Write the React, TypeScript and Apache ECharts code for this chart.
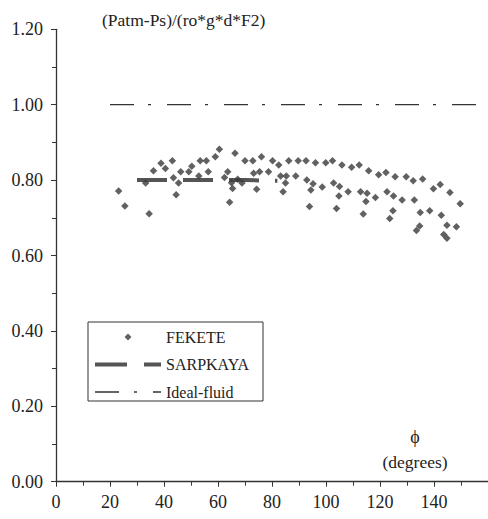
import React, { useEffect, useRef } from "react";
import * as echarts from "echarts";

// FEKETE measurements: angle (degrees) and pressure ratio
const feketeAngle = [
  23.2, 25.5, 34.5, 33.2, 36.1, 38.9, 40.5, 43.1, 43.5, 45.4, 44.5, 46.2, 49.2, 50.3, 53.4, 55.7,
  52.9, 56.4, 59.0, 60.5, 62.4, 63.6, 65.0, 65.4, 64.3, 66.3, 67.3, 68.9, 70.0, 72.9, 73.2, 75.4,
  74.3, 76.1, 78.7, 80.2, 82.5, 83.2, 86.2, 85.3, 85.0, 84.1, 89.7, 92.6, 88.8, 92.9, 95.2, 94.4,
  93.9, 96.1, 98.6, 99.9, 102.4, 102.8, 105.0, 104.8, 103.9, 105.9, 109.5, 112.3, 108.2, 112.8,
  115.2, 114.8, 113.8, 115.8, 118.3, 119.5, 122.2, 125.6, 129.7, 132.3, 135.8, 122.6, 125.0, 128.2,
  132.7, 124.8, 123.6, 139.8, 142.3, 145.9, 149.7, 134.9, 138.4, 142.7, 134.7, 133.5, 144.8, 148.3,
  143.6, 144.8,
];
const feketeRatio = [
  0.771, 0.731, 0.711, 0.792, 0.825, 0.845, 0.831, 0.851, 0.806, 0.792, 0.761, 0.822, 0.822, 0.837, 0.851, 0.851,
  0.811, 0.822, 0.862, 0.882, 0.807, 0.822, 0.793, 0.778, 0.741, 0.871, 0.802, 0.792, 0.851, 0.851, 0.818, 0.822,
  0.776, 0.862, 0.822, 0.851, 0.84, 0.811, 0.851, 0.811, 0.792, 0.769, 0.851, 0.851, 0.811, 0.8, 0.79, 0.774,
  0.73, 0.846, 0.782, 0.846, 0.851, 0.792, 0.783, 0.758, 0.725, 0.84, 0.834, 0.84, 0.769, 0.769,
  0.765, 0.743, 0.71, 0.825, 0.754, 0.814, 0.82, 0.809, 0.809, 0.798, 0.803, 0.769, 0.758, 0.747,
  0.747, 0.719, 0.698, 0.777, 0.788, 0.767, 0.737, 0.714, 0.719, 0.707, 0.678, 0.666, 0.68, 0.676,
  0.656, 0.646,
];

// SARPKAYA curve
const sarpkayaAngle = [30, 40, 50, 60, 70, 82];
const sarpkayaRatio = [0.8, 0.8, 0.8, 0.8, 0.8, 0.798];

// Ideal-fluid value
const idealAngle = [20, 160];
const idealRatio = [1.0, 1.0];

const yTitle = "(Patm-Ps)/(ro*g*d*F2)";
const xSymbol = "\u03D5";
const xUnit = "(degrees)";

const SERIF = "Liberation Serif, Times New Roman, DejaVu Serif, serif";

export default function App() {
  const ref = useRef<HTMLDivElement>(null);

  useEffect(() => {
    if (!ref.current) return;
    const chart = echarts.init(ref.current, undefined, { renderer: "svg" });
    const zip = (a: number[], b: number[]) => a.map((v, i) => [v, b[i]]);
    const hidden = { color: "rgba(0,0,0,0)", borderWidth: 0 };

    chart.setOption({
      animation: false,
      backgroundColor: "#ffffff",
      textStyle: { fontFamily: SERIF },
      grid: { left: 56, top: 29.3, width: 459.4, height: 452.4 },
      xAxis: {
        type: "value",
        min: 0,
        max: 160,
        interval: 20,
        axisLine: { lineStyle: { color: "#333", width: 1.3 } },
        axisTick: { show: true, length: 5, lineStyle: { color: "#333" } },
        minorTick: { show: true, splitNumber: 2, length: 4, lineStyle: { color: "#333" } },
        splitLine: { show: false },
        axisLabel: {
          margin: 11,
          color: "#222",
          fontFamily: SERIF,
          fontSize: 18,
          showMaxLabel: false,
        },
      },
      yAxis: {
        type: "value",
        min: 0,
        max: 1.2,
        interval: 0.2,
        axisLine: { show: true, lineStyle: { color: "#333", width: 1.3 } },
        axisTick: { show: true, length: 5, lineStyle: { color: "#333" } },
        minorTick: { show: true, splitNumber: 2, length: 4, lineStyle: { color: "#333" } },
        splitLine: { show: false },
        axisLabel: {
          margin: 13,
          color: "#222",
          fontFamily: SERIF,
          fontSize: 18,
          formatter: (v: number) => v.toFixed(2),
        },
      },
      legend: {
        orient: "vertical",
        left: 88,
        top: 322,
        itemWidth: 66,
        itemHeight: 7,
        itemGap: 11.5,
        padding: [7, 14, 1, 5],
        borderColor: "#333",
        borderWidth: 1,
        symbolKeepAspect: true,
        textStyle: { fontFamily: SERIF, fontSize: 16, color: "#222" },
        data: [
          { name: "FEKETE", icon: "path://M0,-1L1,0L0,1L-1,0Z", itemStyle: { color: "#3a3a3a" } },
          {
            name: "SARPKAYA",
            itemStyle: hidden,
            lineStyle: { width: 4, type: [32, 17], color: "#555" },
          },
          {
            name: "Ideal-fluid",
            itemStyle: hidden,
            lineStyle: { width: 1.3, type: [24, 15, 3, 16], color: "#333" },
          },
        ],
      },
      graphic: [
        {
          type: "text",
          left: 102,
          top: 11,
          style: { text: yTitle, fontFamily: SERIF, fontSize: 17.5, fill: "#222" },
        },
        {
          type: "text",
          x: 415,
          y: 437,
          style: { text: xSymbol, fontFamily: SERIF, fontSize: 18, fill: "#222", align: "center", verticalAlign: "middle" },
        },
        {
          type: "text",
          x: 415,
          y: 462,
          style: { text: xUnit, fontFamily: SERIF, fontSize: 17.5, fill: "#222", align: "center", verticalAlign: "middle" },
        },
      ],
      series: [
        {
          name: "Ideal-fluid",
          type: "line",
          symbol: "none",
          data: zip(idealAngle, idealRatio),
          lineStyle: { color: "#333", width: 1.3, type: [24, 14, 3, 16] },
          z: 1,
        },
        {
          name: "SARPKAYA",
          type: "line",
          symbol: "none",
          data: zip(sarpkayaAngle, sarpkayaRatio),
          lineStyle: { color: "#555", width: 4, type: [30, 16] },
          z: 2,
        },
        {
          name: "FEKETE",
          type: "scatter",
          symbol: "diamond",
          symbolSize: 7.5,
          itemStyle: { color: "#3a3a3a" },
          data: zip(feketeAngle, feketeRatio),
          z: 3,
        },
      ],
    });

    return () => chart.dispose();
  }, []);

  return (
    <div
      ref={ref}
      style={{ position: "fixed", left: 0, top: 0, width: 488, height: 519, background: "#fff" }}
    />
  );
}
